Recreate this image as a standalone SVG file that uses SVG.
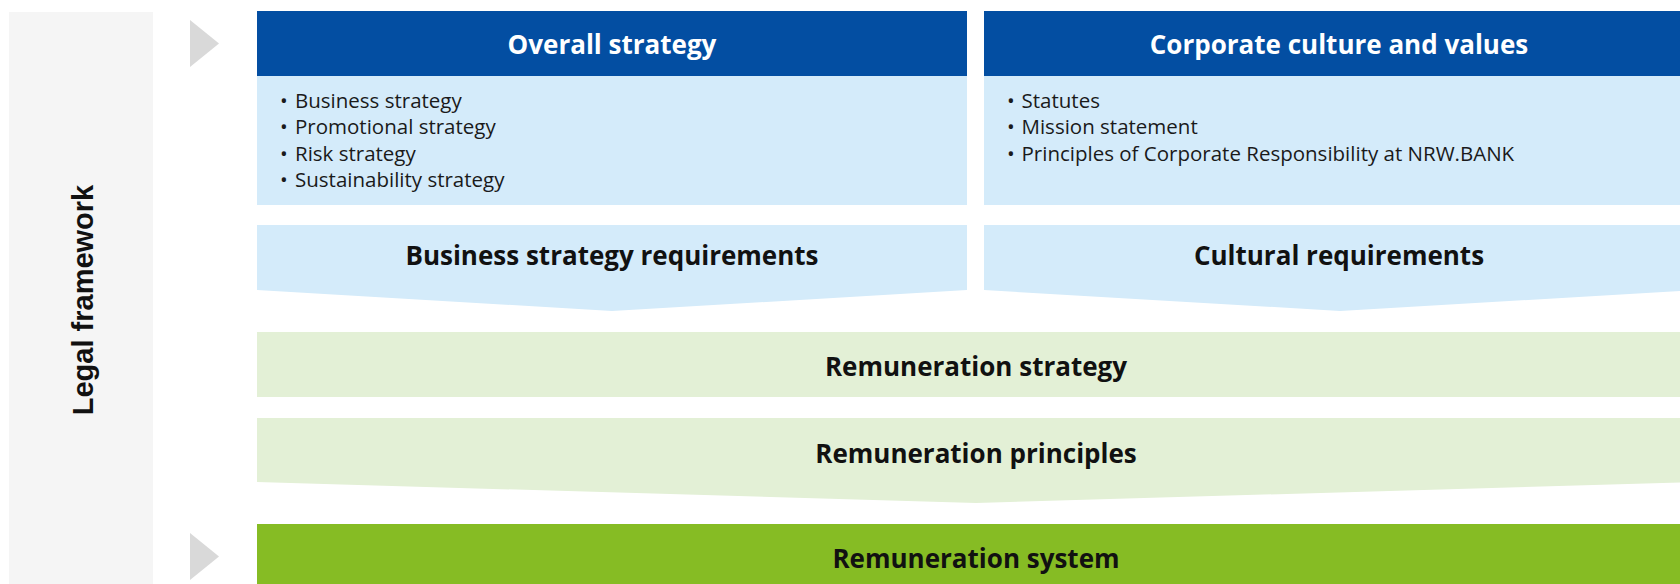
<svg xmlns="http://www.w3.org/2000/svg" width="1680" height="584" viewBox="0 0 1680 584">
<style>
.hdr{fill:#034ea2}
.body{fill:#d4ebfa}
.pale{fill:#e3f0d6}
.green{fill:#86bc24}
.tri{fill:#d9d9d9}
.t-hdr{font-family:"Open Sans","Liberation Sans",sans-serif;font-weight:700;font-size:26px;fill:#ffffff;text-anchor:middle}
.t-big{font-family:"Open Sans","Liberation Sans",sans-serif;font-weight:700;font-size:26px;fill:#111111;text-anchor:middle}
.t-body{font-family:"Open Sans","Liberation Sans",sans-serif;font-size:20.5px;fill:#1a1a1a}
.t-side{font-family:"Liberation Sans",Arial,sans-serif;font-weight:700;font-size:29px;fill:#111111;text-anchor:middle}
</style>
<rect width="1680" height="584" fill="#ffffff"/>
<g id="legal-framework">
<rect x="9" y="12" width="144" height="572" fill="#f5f5f5"/>
<text class="t-side" transform="translate(92.5,300) rotate(-90)">Legal framework</text>
</g>
<g id="markers">
<polygon class="tri" points="190,20 219,43.5 190,67"/>
<polygon class="tri" points="190,533 219,556.5 190,580"/>
</g>
<g id="overall-strategy">
<rect class="hdr" x="257" y="11" width="710" height="65"/>
<rect class="body" x="257" y="76" width="710" height="129"/>
<text class="t-hdr" x="612" y="54">Overall strategy</text>
<g class="t-body">
<text x="280" y="107.7">•<tspan x="295">Business strategy</tspan></text>
<text x="280" y="134.3">•<tspan x="295">Promotional strategy</tspan></text>
<text x="280" y="160.7">•<tspan x="295">Risk strategy</tspan></text>
<text x="280" y="187.3">•<tspan x="295">Sustainability strategy</tspan></text>
</g>
</g>
<g id="corporate-culture">
<rect class="hdr" x="984" y="11" width="712" height="65"/>
<rect class="body" x="984" y="76" width="712" height="129"/>
<text class="t-hdr" x="1339" y="54">Corporate culture and values</text>
<g class="t-body">
<text x="1007" y="107.7">•<tspan x="1021.5">Statutes</tspan></text>
<text x="1007" y="134.3">•<tspan x="1021.5">Mission statement</tspan></text>
<text x="1007" y="160.7">•<tspan x="1021.5">Principles of Corporate Responsibility at NRW.BANK</tspan></text>
</g>
</g>
<g id="business-strategy-requirements">
<polygon class="body" points="257,225 967,225 967,290 612,311 257,290"/>
<text class="t-big" x="612" y="265">Business strategy requirements</text>
</g>
<g id="cultural-requirements">
<polygon class="body" points="984,225 1696,225 1696,290 1340,311 984,290"/>
<text class="t-big" x="1339" y="265">Cultural requirements</text>
</g>
<g id="remuneration-strategy">
<rect class="pale" x="257" y="332" width="1439" height="65"/>
<text class="t-big" x="976" y="376">Remuneration strategy</text>
</g>
<g id="remuneration-principles">
<polygon class="pale" points="257,418 1696,418 1696,482 976,503 257,482"/>
<text class="t-big" x="976" y="462.7">Remuneration principles</text>
</g>
<g id="remuneration-system">
<rect class="green" x="257" y="524" width="1439" height="60"/>
<text class="t-big" x="976" y="568">Remuneration system</text>
</g>
<g id="connectors"></g>
</svg>
